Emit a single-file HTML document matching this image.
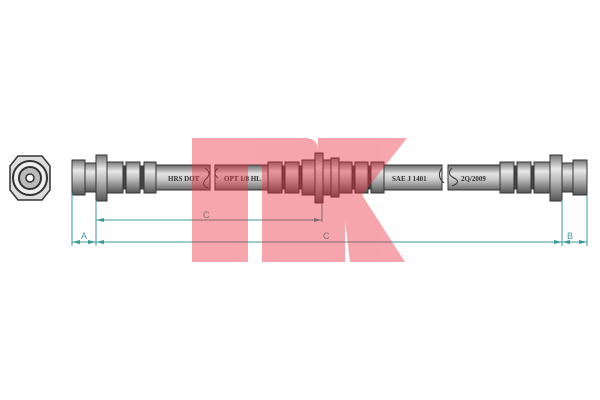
<!DOCTYPE html>
<html><head><style>body{margin:0;background:#fff}svg{display:block}</style></head><body>
<svg width="600" height="400" viewBox="0 0 600 400" xmlns="http://www.w3.org/2000/svg" font-family="Liberation Serif, serif">
<defs>
<linearGradient id="m" x1="0" y1="0" x2="0" y2="1">
<stop offset="0" stop-color="#777"/><stop offset="0.3" stop-color="#e8e8e8"/><stop offset="0.55" stop-color="#bbb"/><stop offset="1" stop-color="#555"/></linearGradient>
<linearGradient id="h" x1="0" y1="0" x2="0" y2="1">
<stop offset="0" stop-color="#666"/><stop offset="0.35" stop-color="#e4e4e4"/><stop offset="0.6" stop-color="#c8c8c8"/><stop offset="1" stop-color="#6a6a6a"/></linearGradient>
</defs>
<!-- end view -->
<polygon points="18,156 42,156 50,166 50,190 42,200 18,200 10,190 10,166" fill="#ddd" stroke="#333" stroke-width="1.5"/>
<circle cx="30" cy="178" r="17" fill="#eee" stroke="#333" stroke-width="2"/>
<circle cx="30" cy="178" r="11" fill="#bbb" stroke="#333" stroke-width="2"/>
<circle cx="30" cy="178" r="4" fill="#fff" stroke="#333" stroke-width="1.5"/>
<g stroke="#333" stroke-width="1">
<!-- hoses -->
<rect x="150" y="165" width="60" height="25" fill="url(#h)"/>
<rect x="215" y="165" width="58" height="25" fill="url(#h)"/>
<rect x="380" y="165" width="62" height="25" fill="url(#h)"/>
<rect x="448" y="165" width="56" height="25" fill="url(#h)"/>
<!-- left fitting -->
<rect x="72" y="160" width="13" height="35" fill="url(#m)"/>
<rect x="85" y="163" width="11" height="29" fill="url(#m)"/>
<rect x="96" y="155" width="11" height="46" fill="url(#m)"/>
<rect x="107" y="162" width="16" height="31" fill="url(#m)"/>
<rect x="123" y="166" width="3" height="23" fill="#444"/>
<rect x="126" y="162" width="14" height="31" fill="url(#m)"/>
<rect x="140" y="166" width="4" height="23" fill="#444"/>
<rect x="144" y="162" width="12" height="31" fill="url(#m)"/>
<!-- center fitting -->
<rect x="268" y="162" width="14" height="31" fill="url(#m)"/>
<rect x="282" y="166" width="3" height="23" fill="#444"/>
<rect x="285" y="162" width="14" height="31" fill="url(#m)"/>
<rect x="299" y="166" width="3" height="23" fill="#444"/>
<rect x="302" y="160" width="13" height="35" fill="url(#m)"/>
<rect x="315" y="153" width="8" height="50" fill="url(#m)"/>
<rect x="323" y="160" width="8" height="35" fill="url(#m)"/>
<rect x="331" y="158" width="8" height="39" fill="url(#m)"/>
<rect x="339" y="162" width="13" height="31" fill="url(#m)"/>
<rect x="352" y="166" width="3" height="23" fill="#444"/>
<rect x="355" y="162" width="13" height="31" fill="url(#m)"/>
<rect x="368" y="166" width="3" height="23" fill="#444"/>
<rect x="371" y="162" width="13" height="31" fill="url(#m)"/>
<!-- right fitting -->
<rect x="500" y="162" width="14" height="31" fill="url(#m)"/>
<rect x="514" y="166" width="3" height="23" fill="#444"/>
<rect x="517" y="162" width="14" height="31" fill="url(#m)"/>
<rect x="531" y="166" width="3" height="23" fill="#444"/>
<rect x="534" y="162" width="16" height="31" fill="url(#m)"/>
<rect x="550" y="155" width="12" height="46" fill="url(#m)"/>
<rect x="562" y="163" width="11" height="29" fill="url(#m)"/>
<rect x="573" y="160" width="14" height="35" fill="url(#m)"/>
</g>
<path d="M205,168 q8,5 0,12 q-4,5 3,8 M218,168 q-6,5 0,10" stroke="#333" fill="none"/>
<path d="M442,168 q-6,8 2,15 M452,168 q-6,6 2,10 q8,4 -2,8" stroke="#333" fill="none"/>
<g font-size="7" font-weight="bold" fill="#333">
<text x="168" y="181">HRS DOT</text>
<text x="224" y="181">OPT 1/8 HL</text>
<text x="392" y="181">SAE J 1401</text>
<text x="461" y="181">2Q/2009</text>
</g>
<!-- dimensions -->
<g stroke="#3a9a9a" stroke-width="1" fill="#3a9a9a">
<line x1="72" y1="193" x2="72" y2="246"/>
<line x1="96" y1="200" x2="96" y2="246"/>
<line x1="322" y1="203" x2="322" y2="222"/>
<line x1="562" y1="200" x2="562" y2="246"/>
<line x1="587" y1="195" x2="587" y2="246"/>
<line x1="96" y1="220" x2="322" y2="220"/>
<line x1="72" y1="242" x2="587" y2="242"/>
<polygon points="96,220 104,218 104,222" stroke="none"/>
<polygon points="322,220 314,218 314,222" stroke="none"/>
<polygon points="72,242 80,240 80,244" stroke="none"/>
<polygon points="96,242 88,240 88,244" stroke="none"/>
<polygon points="96,242 104,240 104,244" stroke="none"/>
<polygon points="562,242 554,240 554,244" stroke="none"/>
<polygon points="562,242 570,240 570,244" stroke="none"/>
<polygon points="587,242 579,240 579,244" stroke="none"/>
</g>
<g font-family="Liberation Sans, sans-serif" font-size="9" fill="#3a9a9a">
<text x="81" y="239">A</text><text x="203" y="218">C</text><text x="323" y="239">C</text><text x="567" y="239">B</text>
</g>
<!-- NK logo overlay -->
<g fill="#ec2a3c" opacity="0.42">
<path d="M192,138 H305 Q318,138 318,151 V262 H262 V165 H248 V262 H192 Z"/>
<polygon points="318,138 345,138 345,262 318,262"/>
<polygon points="340,138 407,138 362,195 405,262 350,262 345,220 345,180"/>
</g>
</svg>
</body></html>
